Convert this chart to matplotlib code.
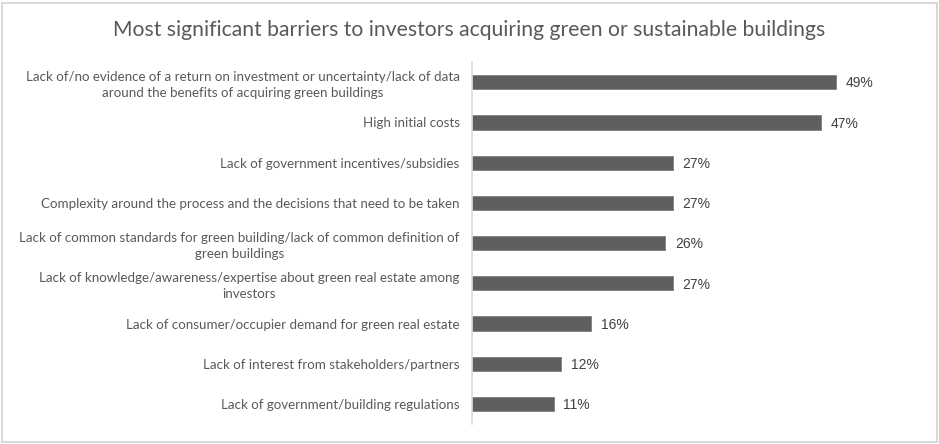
import matplotlib.pyplot as plt
from matplotlib.patches import Rectangle

categories = [
    "Lack of/no evidence of a return on investment or uncertainty/lack of data\naround the benefits of acquiring green buildings",
    "High initial costs",
    "Lack of government incentives/subsidies",
    "Complexity around the process and the decisions that need to be taken",
    "Lack of common standards for green building/lack of common definition of\ngreen buildings",
    "Lack of knowledge/awareness/expertise about green real estate among\ninvestors",
    "Lack of consumer/occupier demand for green real estate",
    "Lack of interest from stakeholders/partners",
    "Lack of government/building regulations",
]
values = [49, 47, 27, 27, 26, 27, 16, 12, 11]
title = "Most significant barriers to investors acquiring green or sustainable buildings"

BAR_COLOR = "#5f5f5f"
TEXT_COLOR = "#595959"

fig = plt.figure(figsize=(9.39, 4.44), dpi=100)
fig.patches.append(Rectangle((0.002, 0.004), 0.996, 0.99, transform=fig.transFigure,
                             fill=False, edgecolor="#d9d9d9", linewidth=1.5))

ax = fig.add_axes([0.5027, 0.045, 0.475, 0.815])
pos = list(range(len(categories)))
ax.barh(pos, values, height=0.35, color=BAR_COLOR, edgecolor="#7f7f7f", linewidth=0.6)
ax.set_ylim(len(categories) - 0.5, -0.5)
ax.set_xlim(0, 60)

ax.set_yticks(pos)
ax.set_yticklabels(categories, fontsize=9.6, color=TEXT_COLOR, family="Lato")
for t in ax.get_yticklabels():
    t.set_multialignment("center")
    t.set_linespacing(1.4)
ax.tick_params(axis="y", length=0, pad=9)
ax.set_xticks([])

for s in ["top", "right", "bottom"]:
    ax.spines[s].set_visible(False)
ax.spines["left"].set_color("#d9d9d9")
ax.spines["left"].set_linewidth(1.2)

for p, v in zip(pos, values):
    ax.text(v + 1.3, p + 0.03, f"{v}%", va="center", ha="left", fontsize=10,
            color="#404040", family="Liberation Sans")

fig.text(0.5, 0.933, title, ha="center", va="center", fontsize=15.2,
         color=TEXT_COLOR, family="Lato")

fig.savefig("out.png", dpi=100)
